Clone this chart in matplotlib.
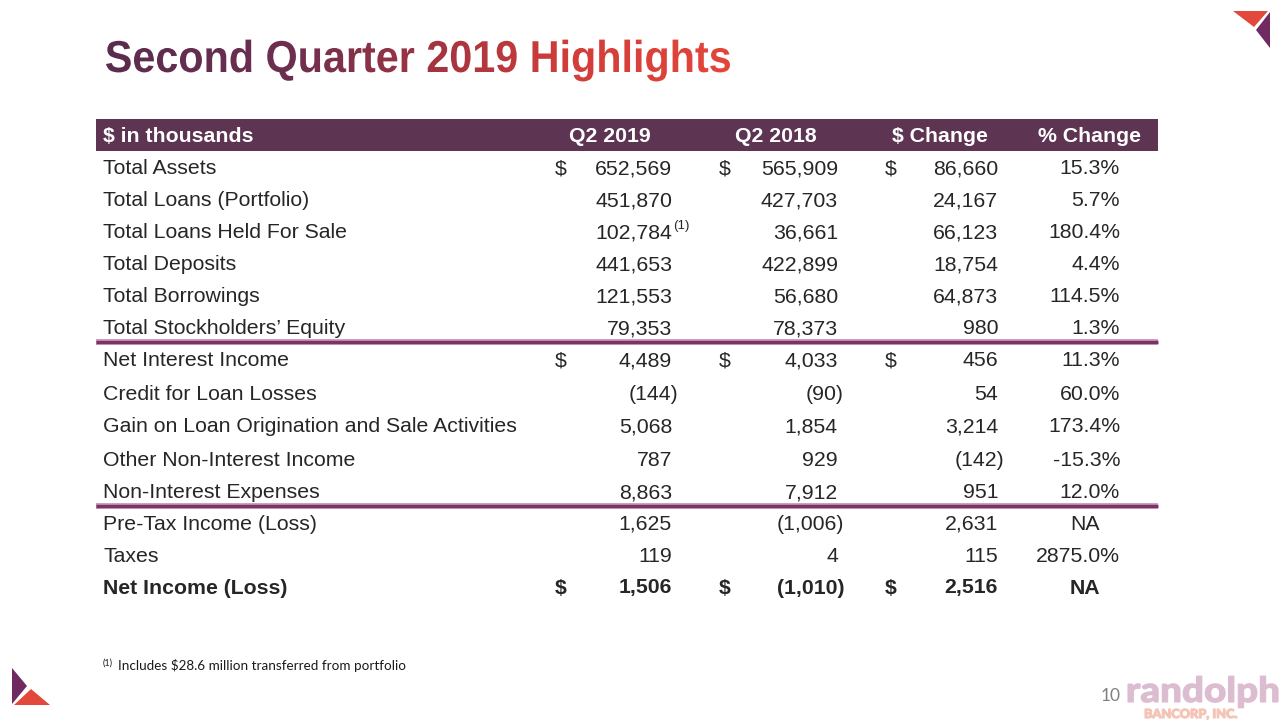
import matplotlib
matplotlib.use("Agg")
import matplotlib.pyplot as plt
import numpy as np
from matplotlib.textpath import TextPath
from matplotlib.font_manager import FontProperties
from matplotlib.patches import PathPatch, Rectangle, Polygon
from matplotlib.transforms import Affine2D
from matplotlib.colors import LinearSegmentedColormap

# ---------------- data ----------------
title = "Second Quarter 2019 Highlights"
header_labels = ["$ in thousands", "Q2 2019", "Q2 2018", "$ Change", "% Change"]
row_labels = [
    "Total Assets", "Total Loans (Portfolio)", "Total Loans Held For Sale",
    "Total Deposits", "Total Borrowings", "Total Stockholders\u2019 Equity",
    "Net Interest Income", "Credit for Loan Losses",
    "Gain on Loan Origination and Sale Activities", "Other Non-Interest Income",
    "Non-Interest Expenses",
    "Pre-Tax Income (Loss)", "Taxes", "Net Income (Loss)",
]
q2_2019 = [652569, 451870, 102784, 441653, 121553, 79353,
           4489, -144, 5068, 787, 8863,
           1625, 119, 1506]
q2_2018 = [565909, 427703, 36661, 422899, 56680, 78373,
           4033, -90, 1854, 929, 7912,
           -1006, 4, -1010]
dollar_change = [86660, 24167, 66123, 18754, 64873, 980,
                 456, 54, 3214, -142, 951,
                 2631, 115, 2516]
pct_change = [15.3, 5.7, 180.4, 4.4, 114.5, 1.3,
              11.3, 60.0, 173.4, -15.3, 12.0,
              None, 2875.0, None]
group_sizes = [6, 5, 3]
dollar_sign_rows = [0, 6, 13]
bold_rows = [13]
footnote_marks = {2: "(1)"}
footnote_text = "Includes $28.6 million transferred from portfolio"
page_number = "10"

# ---------------- style ----------------
PURPLE_HDR = "#5d3553"
LINE_COL = "#7b3366"
TEXT_COL = "#262626"
RED = "#e2483c"
PURPLE = "#6f2a5f"

fig = plt.figure(figsize=(12.8, 7.2), dpi=100)
ax = fig.add_axes([0, 0, 1, 1])
ax.set_axis_off()

FS = 15.3
FAM = ["Liberation Sans", "DejaVu Sans"]
HALF_CAP = 7.5

# ---- title with gradient ----
fp_title = FontProperties(family="Liberation Sans", weight="bold")
tp = TextPath((0, 0), title, size=1, prop=fp_title)
bb = tp.get_extents()
x0, x1, baseline, cap_h = 106, 730, 72, 32
sx = (x1 - x0) / bb.width
sy = cap_h / 0.716
tr = Affine2D().translate(-bb.x0, 0).scale(sx, -sy).translate(x0, baseline) + ax.transData
patch = PathPatch(tp, transform=tr, facecolor="none", edgecolor="none")
ax.add_patch(patch)
cmap = LinearSegmentedColormap.from_list(
    "t", [(0, "#5a2c4e"), (0.3, "#6e2f4f"), (0.55, "#a8353f"), (0.75, "#d23e3a"), (1, "#e3463a")])
grad = np.linspace(0, 1, 512).reshape(1, -1)
im = ax.imshow(grad, extent=(x0, x1, 90, 25), cmap=cmap, aspect="auto", interpolation="bilinear")
im.set_clip_path(patch)

# ---- header band ----
tbl_l, tbl_r = 96, 1158
ax.add_patch(Rectangle((tbl_l, 119), tbl_r - tbl_l, 32, facecolor=PURPLE_HDR, edgecolor="none"))
hdr_y = 135 + HALF_CAP
ax.text(103, hdr_y, header_labels[0], color="white", fontsize=FS, fontweight="bold",
        family=FAM, ha="left", va="baseline")
for lab, cx in zip(header_labels[1:], [610, 776, 940, 1089]):
    ax.text(cx, hdr_y, lab, color="white", fontsize=FS, fontweight="bold",
            family=FAM, ha="center", va="baseline")

# ---- rows ----
group_start = [167, 359, 522]
group_step = [32, 33, 32]
row_y = []
for gs, st, n in zip(group_start, group_step, group_sizes):
    row_y += [gs + st * i for i in range(n)]

num_cols = [(q2_2019, 555, 672), (q2_2018, 719, 838), (dollar_change, 885, 998)]
pct_right = 1120
paren_w = 6

def fmt(v):
    s = f"{abs(v):,}"
    return f"({s})" if v < 0 else s

for i, lab in enumerate(row_labels):
    y = row_y[i] + HALF_CAP
    w = "bold" if i in bold_rows else "normal"
    kw = dict(color=TEXT_COL, fontsize=FS, fontweight=w, family=FAM, va="baseline")
    ax.text(103, y, lab, ha="left", **kw)
    for vals, dx, rx in num_cols:
        v = vals[i]
        xr = rx + (paren_w if v < 0 else 0)
        ax.text(xr, y, fmt(v), ha="right", **kw)
        if i in dollar_sign_rows:
            ax.text(dx, y, "$", ha="left", **kw)
    p = pct_change[i]
    if p is None:
        ax.text(1085, y, "NA", ha="center", **kw)
    else:
        ax.text(pct_right, y, f"{p:.1f}%", ha="right", **kw)
    if i in footnote_marks:
        ax.text(673, y - 10, footnote_marks[i], color=TEXT_COL, fontsize=9.5, family=FAM,
                ha="left", va="baseline")

# ---- divider lines between groups ----
for yl in [342, 506]:
    ax.plot([tbl_l, tbl_r], [yl, yl], color="#c99ab9", lw=4.2, solid_capstyle="butt")
    ax.plot([tbl_l, tbl_r], [yl, yl], color=LINE_COL, lw=2.4, solid_capstyle="butt")

# ---- footnote ----
ax.text(103, 666, "(1)", color="#1a1a1a", fontsize=6.5, family=["Lato", "DejaVu Sans"],
        ha="left", va="baseline")
ax.text(118, 670, footnote_text, color="#1a1a1a", fontsize=9.7,
        family=["Lato", "DejaVu Sans"], ha="left", va="baseline")

# ---- page number ----
ax.text(1121, 701, page_number, color="#7f7f7f", fontsize=12.5,
        family=["Lato", "DejaVu Sans"], ha="right", va="baseline")

# ---- corner decorations ----
ax.add_patch(Polygon([(1233, 11), (1268, 11), (1254, 27)], closed=True, facecolor=RED, edgecolor="none"))
ax.add_patch(Polygon([(1270, 12), (1256, 30), (1270, 48)], closed=True, facecolor=PURPLE, edgecolor="none"))
ax.add_patch(Polygon([(12, 668), (27, 686), (12, 704)], closed=True, facecolor=PURPLE, edgecolor="none"))
ax.add_patch(Polygon([(14, 705), (31, 689), (50, 705)], closed=True, facecolor=RED, edgecolor="none"))

# ---- logo ----
def fitted_text(s, left, right, base, cap, color, weight="bold", family="Open Sans"):
    fp = FontProperties(family=family, weight=weight)
    t = TextPath((0, 0), s, size=1, prop=fp)
    b = t.get_extents()
    sxx = (right - left) / b.width
    trf = Affine2D().translate(-b.x0, 0).scale(sxx, -cap / 0.72).translate(left, base) + ax.transData
    ax.add_patch(PathPatch(t, transform=trf, facecolor=color, edgecolor=color, lw=0.8))

fitted_text("randolph", 1128, 1278, 702, 25, "#dcbcd0", weight="black", family="Lato")
fitted_text("BANCORP, INC.", 1145, 1237, 718, 9, "#f4c3b6", weight="black", family="Lato")

ax.set_xlim(0, 1280)
ax.set_ylim(720, 0)
ax.set_aspect("auto")

fig.savefig("out.png", dpi=100, facecolor="white")
